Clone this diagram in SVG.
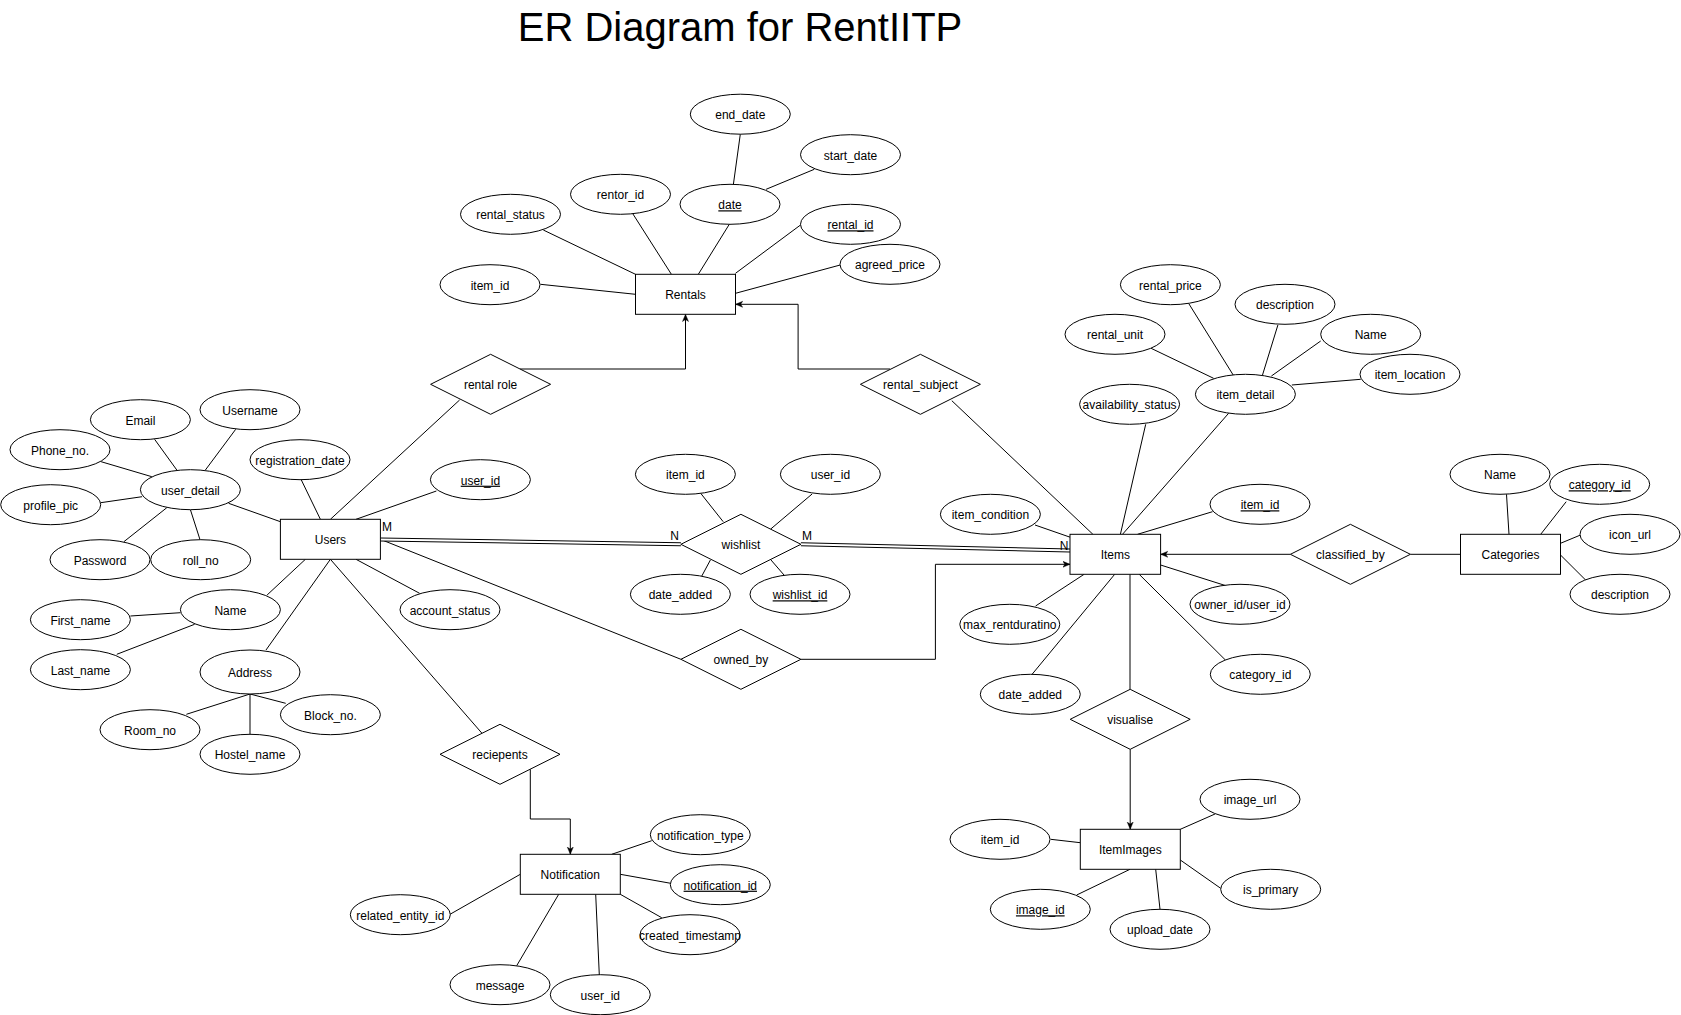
<svg xmlns="http://www.w3.org/2000/svg" width="1681" height="1015" viewBox="0 0 1681 1015">
<style>
text{font-family:"Liberation Sans",Arial,sans-serif;font-size:12px;fill:#000;text-anchor:middle}
g.n text{transform:translateY(1px)}
.t{font-size:40px}
.u{text-decoration:underline}
rect,ellipse,polygon{fill:#fff;stroke:#000;stroke-width:1}
.c line,.c path{stroke:#000;stroke-width:1;fill:none}
.c .dbl{stroke:#000;stroke-width:4}
.c .dblw{stroke:#fff;stroke-width:2}
.c .arr{marker-end:url(#ah)}
</style>
<defs>
<marker id="ah" viewBox="0 0 10 10" refX="9" refY="5" markerWidth="8" markerHeight="8" markerUnits="userSpaceOnUse" orient="auto">
<path d="M0,1.2 L9,5 L0,8.8 L2.5,5 z" fill="#000" stroke="#000" stroke-width="0.5"/>
</marker>
</defs>
<rect x="0" y="0" width="1681" height="1015" style="stroke:none;fill:#fff"/>
<text class="t" x="740" y="41">ER Diagram for RentIITP</text>

<g id="connectors" class="c">
<line x1="540.5" y1="284.3" x2="635.5" y2="294.3"/>
<line x1="543.3" y1="230" x2="635.5" y2="274.3"/>
<line x1="632.5" y1="213.3" x2="671.4" y2="274.3"/>
<line x1="729.3" y1="224.3" x2="698.3" y2="274.3"/>
<line x1="740.3" y1="134.2" x2="733.4" y2="184.3"/>
<line x1="814.3" y1="169.3" x2="766.1" y2="189.3"/>
<line x1="800.5" y1="225" x2="735.5" y2="273.3"/>
<line x1="840.2" y1="265" x2="735.5" y2="293.3"/>

<line x1="154.6" y1="439.3" x2="176.8" y2="470"/>
<line x1="235.7" y1="429.3" x2="205.4" y2="470"/>
<line x1="101.1" y1="461.7" x2="151.8" y2="476.7"/>
<line x1="100.7" y1="502.7" x2="142.1" y2="496.7"/>
<line x1="123.9" y1="541.7" x2="166.8" y2="507.7"/>
<line x1="200" y1="539.7" x2="190.4" y2="509.7"/>
<line x1="228.6" y1="503.3" x2="280.4" y2="521.7"/>
<line x1="301" y1="479.3" x2="320.4" y2="519.3"/>
<line x1="459.6" y1="400" x2="330.4" y2="519.3"/>
<line x1="436.4" y1="491" x2="356" y2="519.3"/>
<line x1="305.4" y1="559.3" x2="267.1" y2="595"/>
<line x1="330.4" y1="559.3" x2="266" y2="650"/>
<line x1="356" y1="559.3" x2="419.6" y2="593.3"/>
<line x1="330.4" y1="559.3" x2="482" y2="733.3"/>
<line x1="380.4" y1="539.3" x2="680.9" y2="659.3"/>
<line x1="130.4" y1="616" x2="180.4" y2="612.7"/>
<line x1="116.8" y1="654.3" x2="194.6" y2="624.3"/>
<line x1="186.4" y1="714.3" x2="250" y2="694"/>
<line x1="250" y1="694" x2="250" y2="734.3"/>
<line x1="250" y1="694" x2="285.7" y2="703.3"/>

<line x1="700.7" y1="493.3" x2="723.2" y2="521.7"/>
<line x1="812.1" y1="494" x2="770.4" y2="529.3"/>
<line x1="701.8" y1="576" x2="710.4" y2="560"/>
<line x1="784.6" y1="575.7" x2="770.4" y2="559.3"/>

<line class="dbl" x1="380.4" y1="539.4" x2="680.9" y2="544.3"/>
<line class="dblw" x1="380.4" y1="539.4" x2="680.9" y2="544.3"/>
<line class="dbl" x1="800.9" y1="544.3" x2="1070" y2="550.5"/>
<line class="dblw" x1="800.9" y1="544.3" x2="1070" y2="550.5"/>

<line x1="1188.6" y1="303.3" x2="1233.2" y2="375"/>
<line x1="1277.9" y1="325" x2="1262.5" y2="375"/>
<line x1="1151.1" y1="348.3" x2="1213.6" y2="378.3"/>
<line x1="1320.7" y1="341" x2="1271.4" y2="376"/>
<line x1="1360.7" y1="379.3" x2="1291.8" y2="385"/>
<line x1="1228.6" y1="413.3" x2="1122.5" y2="534.3"/>
<line x1="1145.7" y1="424.3" x2="1120.4" y2="534.3"/>
<line x1="951.8" y1="400.7" x2="1092.9" y2="534.3"/>
<line x1="1212.5" y1="511.7" x2="1137.5" y2="534.3"/>
<line x1="1035" y1="525" x2="1070.4" y2="537.3"/>
<line x1="1035.6" y1="606" x2="1084.1" y2="574.3"/>
<line x1="1031.5" y1="675" x2="1114.7" y2="574.3"/>
<line x1="1226.9" y1="586" x2="1160.6" y2="565"/>
<line x1="1225.4" y1="660" x2="1139.2" y2="574.3"/>
<line x1="1130" y1="574.3" x2="1130" y2="689.3"/>

<line x1="1506.5" y1="494.3" x2="1509" y2="534.3"/>
<line x1="1566.2" y1="501.7" x2="1540.7" y2="534.3"/>
<line x1="1580.5" y1="535" x2="1560.5" y2="543.3"/>
<line x1="1585.6" y1="580" x2="1560.5" y2="555"/>
<line x1="1410.4" y1="554.3" x2="1460.5" y2="554.3"/>

<line x1="651.7" y1="840.7" x2="611.7" y2="854.3"/>
<line x1="670.7" y1="883.3" x2="620.3" y2="874.3"/>
<line x1="661.7" y1="917.7" x2="620.3" y2="894.3"/>
<line x1="450" y1="914.3" x2="520.3" y2="874.3"/>
<line x1="516.7" y1="965.7" x2="558.7" y2="894.3"/>
<line x1="599.3" y1="975" x2="595.7" y2="894.3"/>

<line x1="1215" y1="814" x2="1180.3" y2="829.3"/>
<line x1="1050.7" y1="839.3" x2="1080.3" y2="842.7"/>
<line x1="1220.7" y1="888.3" x2="1180.3" y2="860"/>
<line x1="1076.7" y1="895" x2="1130" y2="869.3"/>
<line x1="1160" y1="909.3" x2="1155.7" y2="869.3"/>

<path class="arr" d="M519.9,369 H685.5 V314.3"/>
<path class="arr" d="M890.1,369 H798.1 V304.3 H735.5"/>
<path class="arr" d="M800.9,659.3 H935.4 V564.3 H1070"/>
<path class="arr" d="M1290.4,554.3 H1160.6"/>
<path class="arr" d="M1130.2,749.3 V829.3"/>
<path class="arr" d="M530.3,769.3 V819 H570.3 V854.3"/>

<text x="387" y="530.5">M</text>
<text x="674.5" y="540">N</text>
<text x="807" y="540">M</text>
<text x="1064" y="550">N</text>
</g>

<g id="Rentals" class="n"><rect x="635.5" y="274.3" width="100" height="40"/><text x="685.5" y="298.3">Rentals</text></g>
<g id="Users" class="n"><rect x="280.4" y="519.3" width="100" height="40"/><text x="330.4" y="543.3">Users</text></g>
<g id="Items" class="n"><rect x="1070" y="534.3" width="90.6" height="40"/><text x="1115.3" y="558.3">Items</text></g>
<g id="Categories" class="n"><rect x="1460.5" y="534.3" width="100" height="40"/><text x="1510.5" y="558.3">Categories</text></g>
<g id="Notification" class="n"><rect x="520.3" y="854.3" width="100" height="40"/><text x="570.3" y="878.3">Notification</text></g>
<g id="ItemImages" class="n"><rect x="1080.3" y="829.3" width="100" height="40"/><text x="1130.3" y="853.3">ItemImages</text></g>

<g id="rel_rental_role" class="n"><polygon points="430.6,384.3 490.6,354.3 550.6,384.3 490.6,414.3"/><text x="490.6" y="388.3">rental role</text></g>
<g id="rel_rental_subject" class="n"><polygon points="860.4,384.3 920.4,354.3 980.4,384.3 920.4,414.3"/><text x="920.4" y="388.3">rental_subject</text></g>
<g id="rel_wishlist" class="n"><polygon points="680.9,544.3 740.9,514.3 800.9,544.3 740.9,574.3"/><text x="740.9" y="548.3">wishlist</text></g>
<g id="rel_owned_by" class="n"><polygon points="680.9,659.3 740.9,629.3 800.9,659.3 740.9,689.3"/><text x="740.9" y="663.3">owned_by</text></g>
<g id="rel_reciepents" class="n"><polygon points="440,754.3 500,724.3 560,754.3 500,784.3"/><text x="500" y="758.3">reciepents</text></g>
<g id="rel_classified_by" class="n"><polygon points="1290.4,554.3 1350.4,524.3 1410.4,554.3 1350.4,584.3"/><text x="1350.4" y="558.3">classified_by</text></g>
<g id="rel_visualise" class="n"><polygon points="1070.2,719.3 1130.2,689.3 1190.2,719.3 1130.2,749.3"/><text x="1130.2" y="723.3">visualise</text></g>

<g id="r_end_date" class="n"><ellipse cx="740.3" cy="114.2" rx="50" ry="20"/><text x="740.3" y="118.2">end_date</text></g>
<g id="r_start_date" class="n"><ellipse cx="850.5" cy="154.7" rx="50" ry="20"/><text x="850.5" y="158.7">start_date</text></g>
<g id="r_date" class="n"><ellipse cx="730" cy="204.3" rx="50" ry="20"/><text class="u" x="730" y="208.3">date</text></g>
<g id="r_rentor_id" class="n"><ellipse cx="620.5" cy="194.3" rx="50" ry="20"/><text x="620.5" y="198.3">rentor_id</text></g>
<g id="r_rental_status" class="n"><ellipse cx="510.5" cy="214.3" rx="50" ry="20"/><text x="510.5" y="218.3">rental_status</text></g>
<g id="r_rental_id" class="n"><ellipse cx="850.5" cy="224.3" rx="50" ry="20"/><text class="u" x="850.5" y="228.3">rental_id</text></g>
<g id="r_agreed_price" class="n"><ellipse cx="890" cy="264.3" rx="50" ry="20"/><text x="890" y="268.3">agreed_price</text></g>
<g id="r_item_id" class="n"><ellipse cx="490" cy="284.7" rx="50" ry="20"/><text x="490" y="288.7">item_id</text></g>

<g id="u_username" class="n"><ellipse cx="250" cy="409.7" rx="50" ry="20"/><text x="250" y="413.7">Username</text></g>
<g id="u_email" class="n"><ellipse cx="140.4" cy="419.7" rx="50" ry="20"/><text x="140.4" y="423.7">Email</text></g>
<g id="u_phone" class="n"><ellipse cx="60" cy="449.7" rx="50" ry="20"/><text x="60" y="453.7">Phone_no.</text></g>
<g id="u_user_detail" class="n"><ellipse cx="190.4" cy="489.7" rx="50" ry="20"/><text x="190.4" y="493.7">user_detail</text></g>
<g id="u_profile_pic" class="n"><ellipse cx="50.7" cy="504.7" rx="50" ry="20"/><text x="50.7" y="508.7">profile_pic</text></g>
<g id="u_password" class="n"><ellipse cx="100" cy="559.7" rx="50" ry="20"/><text x="100" y="563.7">Password</text></g>
<g id="u_roll_no" class="n"><ellipse cx="200.7" cy="559.7" rx="50" ry="20"/><text x="200.7" y="563.7">roll_no</text></g>
<g id="u_registration_date" class="n"><ellipse cx="300" cy="459.7" rx="50" ry="20"/><text x="300" y="463.7">registration_date</text></g>
<g id="u_user_id" class="n"><ellipse cx="480.4" cy="479.7" rx="50" ry="20"/><text class="u" x="480.4" y="483.7">user_id</text></g>
<g id="u_name" class="n"><ellipse cx="230.4" cy="609.7" rx="50" ry="20"/><text x="230.4" y="613.7">Name</text></g>
<g id="u_first_name" class="n"><ellipse cx="80.4" cy="619.7" rx="50" ry="20"/><text x="80.4" y="623.7">First_name</text></g>
<g id="u_last_name" class="n"><ellipse cx="80.4" cy="669.7" rx="50" ry="20"/><text x="80.4" y="673.7">Last_name</text></g>
<g id="u_account_status" class="n"><ellipse cx="450" cy="609.7" rx="50" ry="20"/><text x="450" y="613.7">account_status</text></g>
<g id="u_address" class="n"><ellipse cx="250" cy="672" rx="50" ry="22"/><text x="250" y="676">Address</text></g>
<g id="u_block_no" class="n"><ellipse cx="330.4" cy="714.7" rx="50" ry="20"/><text x="330.4" y="718.7">Block_no.</text></g>
<g id="u_room_no" class="n"><ellipse cx="150" cy="729.7" rx="50" ry="20"/><text x="150" y="733.7">Room_no</text></g>
<g id="u_hostel_name" class="n"><ellipse cx="250" cy="754.3" rx="50" ry="20"/><text x="250" y="758.3">Hostel_name</text></g>

<g id="w_item_id" class="n"><ellipse cx="685.4" cy="474.3" rx="50" ry="20"/><text x="685.4" y="478.3">item_id</text></g>
<g id="w_user_id" class="n"><ellipse cx="830.4" cy="474.3" rx="50" ry="20"/><text x="830.4" y="478.3">user_id</text></g>
<g id="w_date_added" class="n"><ellipse cx="680.4" cy="594.3" rx="50" ry="20"/><text x="680.4" y="598.3">date_added</text></g>
<g id="w_wishlist_id" class="n"><ellipse cx="800" cy="594.3" rx="50" ry="20"/><text class="u" x="800" y="598.3">wishlist_id</text></g>

<g id="i_rental_price" class="n"><ellipse cx="1170.4" cy="284.7" rx="50" ry="20"/><text x="1170.4" y="288.7">rental_price</text></g>
<g id="i_description" class="n"><ellipse cx="1285" cy="304.3" rx="50" ry="20"/><text x="1285" y="308.3">description</text></g>
<g id="i_rental_unit" class="n"><ellipse cx="1115" cy="334.3" rx="50" ry="20"/><text x="1115" y="338.3">rental_unit</text></g>
<g id="i_name" class="n"><ellipse cx="1370.7" cy="334.3" rx="50" ry="20"/><text x="1370.7" y="338.3">Name</text></g>
<g id="i_item_location" class="n"><ellipse cx="1410" cy="374.3" rx="50" ry="20"/><text x="1410" y="378.3">item_location</text></g>
<g id="i_item_detail" class="n"><ellipse cx="1245.4" cy="394.3" rx="50" ry="20"/><text x="1245.4" y="398.3">item_detail</text></g>
<g id="i_availability_status" class="n"><ellipse cx="1129.6" cy="404.3" rx="50" ry="20"/><text x="1129.6" y="408.3">availability_status</text></g>
<g id="i_item_id" class="n"><ellipse cx="1260" cy="504.3" rx="50" ry="20"/><text class="u" x="1260" y="508.3">item_id</text></g>
<g id="i_item_condition" class="n"><ellipse cx="990.4" cy="514.3" rx="50" ry="20"/><text x="990.4" y="518.3">item_condition</text></g>
<g id="i_max_rentduratino" class="n"><ellipse cx="1009.8" cy="624.3" rx="50" ry="20"/><text x="1009.8" y="628.3">max_rentduratino</text></g>
<g id="i_date_added" class="n"><ellipse cx="1030.3" cy="694.3" rx="50" ry="20"/><text x="1030.3" y="698.3">date_added</text></g>
<g id="i_owner_id" class="n"><ellipse cx="1240" cy="604.3" rx="50" ry="20"/><text x="1240" y="608.3">owner_id/user_id</text></g>
<g id="i_category_id" class="n"><ellipse cx="1260.3" cy="674.3" rx="50" ry="20"/><text x="1260.3" y="678.3">category_id</text></g>

<g id="c_name" class="n"><ellipse cx="1500" cy="474.3" rx="50" ry="20"/><text x="1500" y="478.3">Name</text></g>
<g id="c_category_id" class="n"><ellipse cx="1599.7" cy="484.3" rx="50" ry="20"/><text class="u" x="1599.7" y="488.3">category_id</text></g>
<g id="c_icon_url" class="n"><ellipse cx="1630" cy="534.3" rx="50" ry="20"/><text x="1630" y="538.3">icon_url</text></g>
<g id="c_description" class="n"><ellipse cx="1620" cy="594.3" rx="50" ry="20"/><text x="1620" y="598.3">description</text></g>

<g id="n_notification_type" class="n"><ellipse cx="700.3" cy="834.7" rx="50" ry="20"/><text x="700.3" y="838.7">notification_type</text></g>
<g id="n_notification_id" class="n"><ellipse cx="720.3" cy="884.7" rx="50" ry="20"/><text class="u" x="720.3" y="888.7">notification_id</text></g>
<g id="n_created_timestamp" class="n"><ellipse cx="690" cy="934.7" rx="50" ry="20"/><text x="690" y="938.7">created_timestamp</text></g>
<g id="n_related_entity_id" class="n"><ellipse cx="400.3" cy="914.7" rx="50" ry="20"/><text x="400.3" y="918.7">related_entity_id</text></g>
<g id="n_message" class="n"><ellipse cx="500" cy="984.7" rx="50" ry="20"/><text x="500" y="988.7">message</text></g>
<g id="n_user_id" class="n"><ellipse cx="600.3" cy="994.7" rx="50" ry="20"/><text x="600.3" y="998.7">user_id</text></g>

<g id="m_image_url" class="n"><ellipse cx="1250" cy="799.3" rx="50" ry="20"/><text x="1250" y="803.3">image_url</text></g>
<g id="m_item_id" class="n"><ellipse cx="1000" cy="839.3" rx="50" ry="20"/><text x="1000" y="843.3">item_id</text></g>
<g id="m_is_primary" class="n"><ellipse cx="1270.7" cy="889.3" rx="50" ry="20"/><text x="1270.7" y="893.3">is_primary</text></g>
<g id="m_image_id" class="n"><ellipse cx="1040.3" cy="909.3" rx="50" ry="20"/><text class="u" x="1040.3" y="913.3">image_id</text></g>
<g id="m_upload_date" class="n"><ellipse cx="1160" cy="929.3" rx="50" ry="20"/><text x="1160" y="933.3">upload_date</text></g>
</svg>
